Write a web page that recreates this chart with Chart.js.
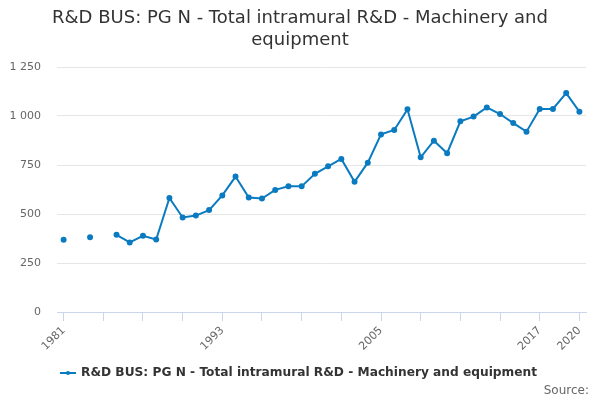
<!DOCTYPE html>
<html>
<head>
<meta charset="utf-8">
<script src="https://cdn.jsdelivr.net/npm/chart.js@4.4.1/dist/chart.umd.min.js"></script>
<style>
  html, body { margin: 0; padding: 0; background: #fff; }
  #wrap { width: 600px; height: 400px; }
</style>
</head>
<body>
<div id="wrap"><canvas id="chart"></canvas></div>
<script>
const titleLines = ["R&D BUS: PG N - Total intramural R&D - Machinery and", "equipment"];
const seriesName = "R&D BUS: PG N - Total intramural R&D - Machinery and equipment";
const years = [1981, 1982, 1983, 1984, 1985, 1986, 1987, 1988, 1989, 1990,
  1991, 1992, 1993, 1994, 1995, 1996, 1997, 1998, 1999, 2000,
  2001, 2002, 2003, 2004, 2005, 2006, 2007, 2008, 2009, 2010,
  2011, 2012, 2013, 2014, 2015, 2016, 2017, 2018, 2019, 2020];
const values = [369, null, 382, null, 394, 355, 389, 370, 582, 482,
  492, 520, 595, 691, 584, 579, 623, 641, 641, 705,
  743, 781, 664, 762, 906, 929, 1034, 789, 874, 810,
  973, 997, 1044, 1010, 964, 920, 1036, 1036, 1117, 1022];
const xTickYears = [1981, 1984, 1987, 1990, 1993, 1996, 1999, 2002, 2005, 2008, 2011, 2014, 2017, 2020];
const xLabelYears = [1981, 1993, 2005, 2017, 2020];
const yTicks = [0, 250, 500, 750, 1000, 1250];

const lineColor = "#0b7bc1";

function fmt(n) {
  return String(n).replace(/\B(?=(\d{3})+(?!\d))/g, " ");
}

// title, legend and source drawn around the chart
const extras = {
  id: "extras",
  afterDraw(chart) {
    const ctx = chart.ctx;
    ctx.save();
    ctx.textBaseline = "middle";
    ctx.textAlign = "center";
    ctx.fillStyle = "#333333";
    ctx.font = "18px 'DejaVu Sans'";
    titleLines.forEach((t, i) => ctx.fillText(t, 300, 18 + i * 22));

    ctx.font = "bold 12.2px 'DejaVu Sans'";
    const tw = ctx.measureText(seriesName).width;
    const x0 = 60;
    const y = 373;
    ctx.strokeStyle = lineColor;
    ctx.lineWidth = 2;
    ctx.beginPath();
    ctx.moveTo(x0, y);
    ctx.lineTo(x0 + 16, y);
    ctx.stroke();
    ctx.fillStyle = lineColor;
    ctx.beginPath();
    ctx.arc(x0 + 8, y, 2, 0, Math.PI * 2);
    ctx.fill();
    ctx.fillStyle = "#333333";
    ctx.textAlign = "left";
    ctx.fillText(seriesName, x0 + 21, y);
    ctx.font = "12px 'DejaVu Sans'";
    ctx.fillStyle = "#666666";
    ctx.textAlign = "right";
    ctx.fillText("Source:", 589, 391);
    ctx.restore();
  }
};

new Chart(document.getElementById("chart"), {
  type: "line",
  data: {
    datasets: [{
      label: seriesName,
      data: years.map((y, i) => ({ x: y, y: values[i] })),
      borderColor: lineColor,
      backgroundColor: lineColor,
      borderWidth: 2,
      pointRadius: 2,
      pointHoverRadius: 3,
      spanGaps: false,
      tension: 0
    }]
  },
  options: {
    responsive: true,
    maintainAspectRatio: false,
    animation: false,
    layout: { padding: { top: 67, left: 0, right: 14, bottom: 0 } },
    plugins: {
      legend: { display: false },
      tooltip: { enabled: false },
      title: { display: false }
    },
    scales: {
      x: {
        type: "linear",
        min: 1980.5,
        max: 2020.5,
        afterBuildTicks: (scale) => { scale.ticks = xTickYears.map(v => ({ value: v })); },
        afterFit: (scale) => { scale.height = 88; },
        grid: {
          drawOnChartArea: false,
          drawTicks: true,
          tickLength: 9,
          color: "#ccd6eb"
        },
        border: { color: "#ccd6eb" },
        ticks: {
          autoSkip: false,
          maxRotation: 45,
          minRotation: 45,
          color: "#666666",
          font: { family: "'DejaVu Sans'", size: 11 },
          padding: 3,
          callback: (v) => xLabelYears.includes(v) ? String(v) : ""
        }
      },
      y: {
        min: 0,
        max: 1250,
        afterBuildTicks: (scale) => { scale.ticks = yTicks.map(v => ({ value: v })); },
        afterFit: (scale) => { scale.width = 57; },
        grid: { color: "#e6e6e6", drawTicks: false },
        border: { display: false },
        ticks: {
          color: "#666666",
          font: { family: "'DejaVu Sans'", size: 11 },
          padding: 16,
          callback: (v) => fmt(v)
        }
      }
    }
  },
  plugins: [extras]
});
</script>
</body>
</html>
